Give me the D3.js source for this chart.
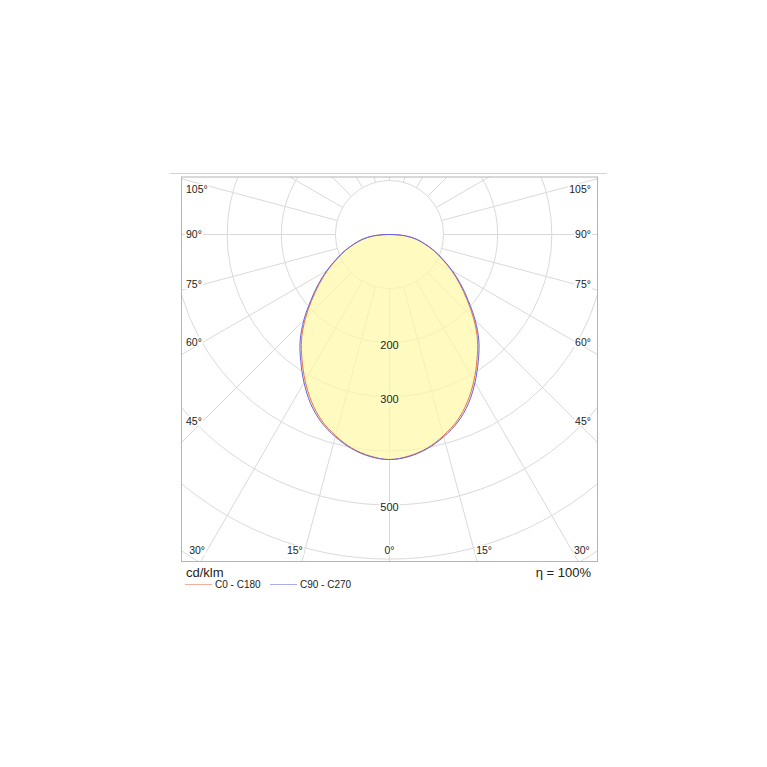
<!DOCTYPE html>
<html>
<head>
<meta charset="utf-8">
<script src="https://cdn.jsdelivr.net/npm/d3@7"></script>
<style>
  html, body { margin: 0; padding: 0; background: #fff; }
  svg { display: block; font-family: "Liberation Sans", Arial, sans-serif; }
</style>
</head>
<body>
<svg id="chart" width="767" height="767"></svg>
<script>
// ---- data (cd/klm) ----
const gammaAngles = [0, 5, 10, 15, 20, 25, 30, 35, 40, 45, 50, 55, 60, 65, 70, 75, 80, 85, 90];
const c0c180     = [416, 411, 401, 385, 366, 341, 312, 282, 253, 220, 187, 158, 132, 107, 87, 67, 50, 30, 0];
const c90c270    = [416, 412, 402, 387, 369, 345, 316, 286, 257, 224, 190, 161, 134, 109, 88, 68, 51, 30, 0];
const ringValues = [100, 200, 300, 400, 500, 600, 700];
const ringLabels = [200, 300, 500];
const radialAngles = [0, 15, 30, 45, 60, 75, 90, 105, 120, 135, 150, 165, 180];
const sideLabels = [105, 90, 75, 60, 45];
const bottomLabels = [30, 15, 0];
const seriesNames = ["C0 - C180", "C90 - C270"];
const unitLabel = "cd/klm";
const efficiencyLabel = "η = 100%";

// ---- layout ----
const svg = d3.select("#chart");
const frame = { left: 181.5, right: 597.5, top: 177, bottom: 561.5 };
const cx = 389.5, cy = 234.5;
const r = d3.scaleLinear().domain([0, 100]).range([0, 54.1]);
const gridColor = "#d9d9d9";
const colors = ["#e8704a", "#6464e6"];
const fillColor = "#fff9a8", fillOpacity = 0.72;
const fillOnWhite = "#fffbc4";

// separator line on top
svg.append("line")
  .attr("x1", 170).attr("x2", 607).attr("y1", 173.5).attr("y2", 173.5)
  .attr("stroke", "#d4d4d4").attr("stroke-width", 1);

svg.append("clipPath").attr("id", "frameClip")
  .append("rect")
  .attr("x", frame.left).attr("y", frame.top)
  .attr("width", frame.right - frame.left).attr("height", frame.bottom - frame.top);

const g = svg.append("g").attr("clip-path", "url(#frameClip)");
const pg = g.append("g").attr("transform", `translate(${cx},${cy})`);

// rings
pg.selectAll("circle.ring").data(ringValues).join("circle")
  .attr("class", "ring")
  .attr("r", d => r(d))
  .attr("fill", "none").attr("stroke", gridColor).attr("stroke-width", 1);

// radial lines (both sides), gamma measured from downward
const rad = a => a * Math.PI / 180;
const rays = [];
radialAngles.forEach(a => {
  rays.push(a);
  if (a !== 0 && a !== 180) rays.push(-a);
});
pg.selectAll("line.ray").data(rays).join("line")
  .attr("class", "ray")
  .attr("x1", d => r(100) * Math.sin(rad(d)))
  .attr("y1", d => r(100) * Math.cos(rad(d)))
  .attr("x2", d => 1000 * Math.sin(rad(d)))
  .attr("y2", d => 1000 * Math.cos(rad(d)))
  .attr("stroke", gridColor).attr("stroke-width", 1);

// curves
function curvePoints(values) {
  const pts = [];
  for (let i = gammaAngles.length - 1; i >= 0; i--) {
    pts.push({ a: Math.PI - rad(gammaAngles[i]), v: values[i] });
  }
  for (let i = 1; i < gammaAngles.length - 1; i++) {
    pts.push({ a: Math.PI + rad(gammaAngles[i]), v: values[i] });
  }
  return pts;
}
const radial = d3.lineRadial()
  .angle(d => d.a)
  .radius(d => r(d.v))
  .curve(d3.curveCatmullRomClosed.alpha(0.5));

pg.append("path")
  .attr("d", radial(curvePoints(c90c270)))
  .attr("fill", fillColor).attr("fill-opacity", fillOpacity).attr("stroke", "none");

[c0c180, c90c270].forEach((vals, i) => {
  pg.append("path")
    .attr("d", radial(curvePoints(vals)))
    .attr("fill", "none")
    .attr("stroke", colors[i]).attr("stroke-width", 1);
});

// frame
svg.append("rect")
  .attr("x", frame.left).attr("y", frame.top)
  .attr("width", frame.right - frame.left).attr("height", frame.bottom - frame.top)
  .attr("fill", "none").attr("stroke", "#b4b4b4").attr("stroke-width", 1);

// text with background box
function boxedText(x, y, str, anchor, size, bg) {
  const grp = svg.append("g");
  const rect = grp.append("rect").attr("fill", bg);
  const t = grp.append("text").attr("x", x).attr("y", y).attr("dy", "0.35em")
    .attr("text-anchor", anchor).attr("font-size", size).attr("fill", "#222")
    .text(str);
  const bb = t.node().getBBox();
  rect.attr("x", bb.x - 1).attr("y", bb.y + 1).attr("width", bb.width + 2).attr("height", bb.height - 2);
  return grp;
}

// ring labels
ringLabels.forEach(d => {
  const inside = d < c90c270[0];
  boxedText(cx, cy + r(d) + 2, d, "middle", 11, inside ? fillOnWhite : "#fff");
});

// side angle labels
const labelDx = 187;
sideLabels.forEach(a => {
  const y = Math.max(cy + labelDx / Math.tan(rad(a)), frame.top + 12);
  boxedText(186, y, a + "°", "start", 10.5, "#fff");
  boxedText(591, y, a + "°", "end", 10.5, "#fff");
});

// bottom angle labels
const bottomY = 550.5;
bottomLabels.forEach(a => {
  const dx = (bottomY - cy) * Math.tan(rad(a));
  if (a === 0) {
    boxedText(cx, bottomY, a + "°", "middle", 10.5, "#fff");
  } else {
    boxedText(cx - dx - 2, bottomY, a + "°", "end", 10.5, "#fff");
    boxedText(cx + dx + 2, bottomY, a + "°", "start", 10.5, "#fff");
  }
});

// unit and efficiency
svg.append("text").attr("x", 186).attr("y", 572.5).attr("dy", "0.35em")
  .attr("font-size", 13).attr("fill", "#222").text(unitLabel);
svg.append("text").attr("x", 591).attr("y", 572.5).attr("dy", "0.35em")
  .attr("text-anchor", "end").attr("font-size", 13).attr("fill", "#222").text(efficiencyLabel);

// legend
const legendX = [185, 270];
seriesNames.forEach((name, i) => {
  svg.append("line")
    .attr("x1", legendX[i]).attr("x2", legendX[i] + 27)
    .attr("y1", 584.5).attr("y2", 584.5)
    .attr("stroke", colors[i]).attr("stroke-opacity", 0.55).attr("stroke-width", 1);
  svg.append("text")
    .attr("x", legendX[i] + 30).attr("y", 584.5).attr("dy", "0.35em")
    .attr("font-size", 10).attr("fill", "#222").text(name);
});
</script>
</body>
</html>
